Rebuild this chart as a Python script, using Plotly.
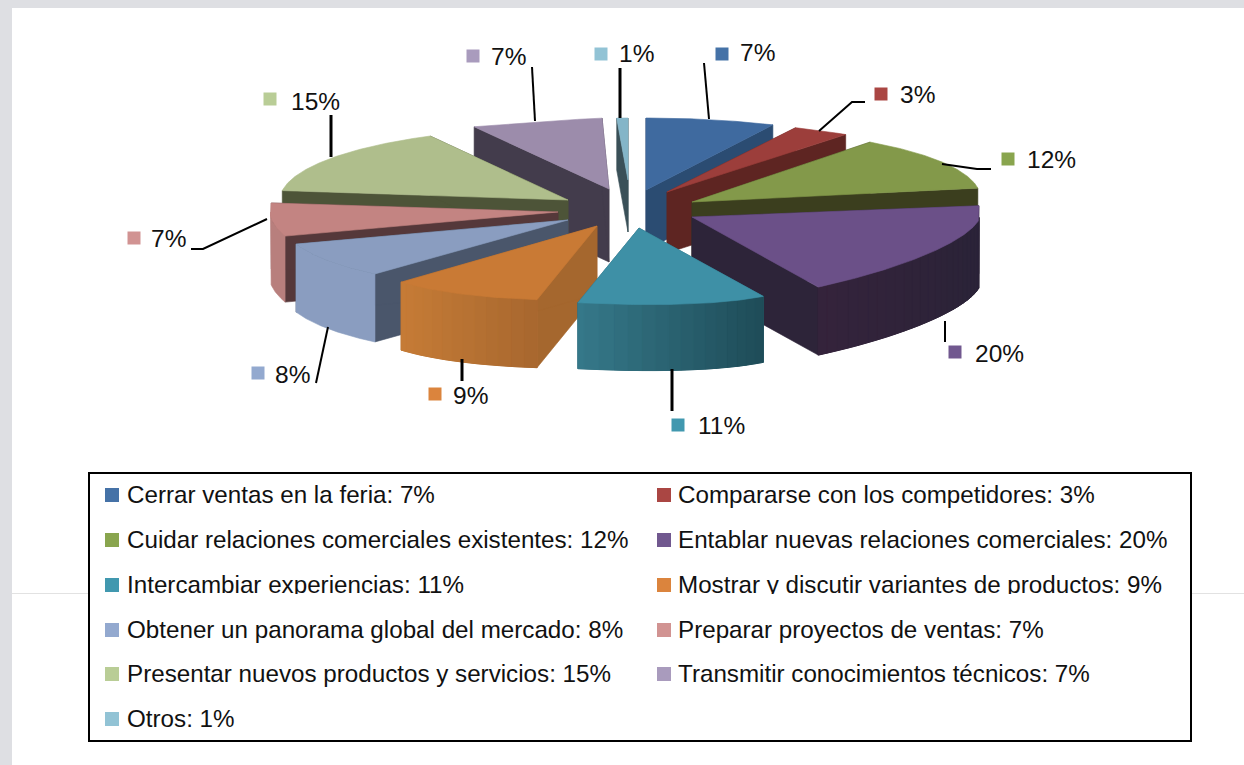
import numpy as np
import plotly.graph_objects as go

# ---- data ----
categories = ["Cerrar ventas en la feria", "Compararse con los competidores",
              "Cuidar relaciones comerciales existentes", "Entablar nuevas relaciones comerciales",
              "Intercambiar experiencias", "Mostrar y discutir variantes de productos",
              "Obtener un panorama global del mercado", "Preparar proyectos de ventas",
              "Presentar nuevos productos y servicios", "Transmitir conocimientos técnicos", "Otros"]
values = [7, 3, 12, 20, 11, 9, 8, 7, 15, 7, 1]
legend_colors = ["#4572A7", "#AA4643", "#89A54E", "#71588F", "#4198AF", "#DB843D",
                 "#93A9CF", "#D19392", "#B9CD96", "#A99BBD", "#92C3D5"]

# ---- style: top colour, wall colour, side gradient (right end, left end) ----
top_colors = ["#3F6A9F", "#9C3E3B", "#83994A", "#6B5088", "#3E90A6", "#C97A35",
              "#8A9DC0", "#C38482", "#AFBE8C", "#9C8CAB", "#84B5C8"]
wall_colors = ["#2B4C72", "#5E2522", "#3B3E1E", "#2D2439", "#2A5F6E", "#A5672E",
               "#4A566B", "#55383A", "#4D5438", "#433C4C", "#3A5058"]
side_right = ["#2B4C72", "#5E2522", "#3B3E1E", "#2B2338", "#1F4C58", "#A8682F",
              "#8A9DC0", "#B87F7D", "#4D5438", "#433C4C", "#3A5058"]
side_left = ["#2B4C72", "#5E2522", "#3B3E1E", "#35233C", "#36798A", "#C67C37",
             "#8A9DC0", "#B87F7D", "#4D5438", "#433C4C", "#3A5058"]
# exploded-slice layout: apex x, apex y, rx at start, rx at end, ry at start, ry at end, depth
explode = [(646, 190, 298, 298, 72, 72, 60), (667, 192, 302, 304, 71, 71, 61),
           (692, 202, 303, 291, 74, 74, 60), (692, 217, 293, 262, 60, 80, 68),
           (639, 228, 258, 326, 78, 76, 66), (597, 226, 320, 286, 75, 77, 68),
           (568, 220, 282, 286, 74, 78, 68), (558, 212, 287, 289, 78, 72, 66),
           (568, 200, 288, 286, 75, 73, 60), (609, 189, 280, 110, 71, 71, 73),
           (628, 180, 180, 180, 62, 62, 52)]
paint_order = [10, 9, 8, 7, 6, 5, 0, 1, 2, 3, 4]
PIE_LEFT, PIE_RIGHT = 270.5, 979

# data-label layout: swatch centre, text start, text y, leader polyline, leader width
marker_xy = [(722, 54), (881, 94), (1008, 159), (955, 352), (678, 425), (435, 394),
             (258, 373), (134, 238), (270, 99), (473, 56), (601, 54)]
label_xy = [(740, 55), (900, 97), (1027, 162), (975, 356), (698, 428), (453, 398),
            (275, 377), (151, 241), (291, 104), (491, 59), (619, 56)]
leaders = [[(704, 63), (709, 119)], [(865, 102), (852, 102), (819, 131)],
           [(942, 164), (977, 169), (991, 169)], [(945, 321), (945, 342)],
           [(672, 369), (672, 411)], [(462, 359), (462, 381)], [(328, 327), (316, 383)],
           [(267, 219), (203, 249), (191, 249)], [(331, 115), (331, 157)],
           [(532, 67), (535, 121)], [(620, 68), (620, 118)]]
leader_w = [2, 2, 2, 2, 3, 3, 2, 2, 3, 2, 3]

legend_rows = [495, 540, 585, 630, 674, 719]
legend_swatch_x = [112, 664]
legend_text_x = [127, 678]

FONT = "Liberation Sans, Arial, sans-serif"


def hex_rgb(h):
    return np.array([int(h[i:i + 2], 16) for i in (1, 3, 5)], float)


def mix(a, b, t):
    c = hex_rgb(a) * (1 - t) + hex_rgb(b) * t
    return "rgb(%d,%d,%d)" % tuple(c)


def poly(fig, xs, ys, color, width=0.6):
    xs = np.clip(np.asarray(xs, float), PIE_LEFT, PIE_RIGHT)
    fig.add_trace(go.Scatter(x=np.r_[xs, xs[0]], y=np.r_[ys, ys[0]], mode="lines",
                             fill="toself", fillcolor=color,
                             line=dict(color=color, width=width), hoverinfo="skip"))


fig = go.Figure()
cum = np.cumsum([0] + values) / sum(values) * 360.0

for i in paint_order:
    a0, a1 = cum[i], cum[i + 1]
    ax, ay, rx0, rx1, ry0, ry1, depth = explode[i]
    th = np.linspace(a0, a1, max(int(a1 - a0) * 2, 3))
    t = (th - a0) / (a1 - a0)
    rad = np.radians(th)
    ex = ax + (rx0 + (rx1 - rx0) * t) * np.sin(rad)
    ey = ay - (ry0 + (ry1 - ry0) * t) * np.cos(rad)
    # flat walls of the wedge
    for k in (0, -1):
        poly(fig, [ax, ex[k], ex[k], ax], [ay, ey[k], ey[k] + depth, ay + depth], wall_colors[i])
    # rounded outer wall: only the part turned to the viewer
    front = (th >= 90) & (th <= 270)
    if front.sum() > 1:
        fx, fy = ex[front], ey[front]
        # solid backing so that the gradient bands leave no seams
        poly(fig, np.r_[fx, fx[::-1]], np.r_[fy, fy[::-1] + depth],
             mix(side_right[i], side_left[i], 0.5))
        if side_right[i] != side_left[i]:
            step = 5
            idx = list(range(0, len(fx) - 1, step)) + [len(fx) - 1]
            for a, b in zip(idx[:-1], idx[1:]):
                u = 1 - (fx[a] + fx[b] - 2 * ex.min()) / 2 / max(ex.max() - ex.min(), 1)
                c = mix(side_right[i], side_left[i], float(np.clip(u, 0, 1)))
                poly(fig, np.r_[fx[a:b + 1], fx[a:b + 1][::-1]],
                     np.r_[fy[a:b + 1], fy[a:b + 1][::-1] + depth], c, width=1)
    # top face
    poly(fig, np.r_[ax, ex], np.r_[ay, ey], top_colors[i])

# leader lines, swatches and percentage labels
for i in range(len(values)):
    fig.add_trace(go.Scatter(x=[p[0] for p in leaders[i]], y=[p[1] for p in leaders[i]],
                             mode="lines", line=dict(color="black", width=leader_w[i]),
                             hoverinfo="skip"))
fig.add_trace(go.Scatter(x=[p[0] for p in marker_xy], y=[p[1] for p in marker_xy], mode="markers",
                         marker=dict(symbol="square", size=13, color=legend_colors), hoverinfo="skip"))
fig.add_trace(go.Scatter(x=[p[0] for p in label_xy], y=[p[1] for p in label_xy], mode="text",
                         text=[f"{v}%" for v in values], textposition="middle right",
                         textfont=dict(family=FONT, size=24.5, color="#111111"), hoverinfo="skip"))

# legend (two columns, row by row)
ly, lsy, lsx, ltx, ltext = [], [], [], [], []
for i, (c, v) in enumerate(zip(categories, values)):
    col = i % 2
    row = legend_rows[i // 2]
    lsx.append(legend_swatch_x[col])
    ltx.append(legend_text_x[col])
    lsy.append(row)
    ly.append(row + 2)
    ltext.append(f"{c}: {v}%")
fig.add_trace(go.Scatter(x=lsx, y=lsy, mode="markers",
                         marker=dict(symbol="square", size=14, color=legend_colors), hoverinfo="skip"))
fig.add_trace(go.Scatter(x=ltx, y=ly, mode="text", text=ltext, textposition="middle right",
                         textfont=dict(family=FONT, size=24.2, color="#111111"), hoverinfo="skip"))

shapes = [
    dict(type="rect", x0=0, x1=12, y0=0, y1=765, fillcolor="#DEDFE3", line_width=0, layer="below"),
    dict(type="rect", x0=0, x1=1244, y0=0, y1=8, fillcolor="#DEDFE3", line_width=0, layer="below"),
    dict(type="line", x0=12, x1=1244, y0=593.5, y1=593.5, line=dict(color="#E2E2E2", width=1), layer="below"),
    dict(type="rect", x0=89, x1=1191, y0=473, y1=741, fillcolor="white",
         line=dict(color="black", width=2), layer="below"),
    # the reference's row of text is cut off along this band
    dict(type="rect", x0=100, x1=1185, y0=594, y1=603, fillcolor="white", line_width=0, layer="above"),
]

fig.update_layout(
    width=1244, height=765, margin=dict(l=0, r=0, t=0, b=0), showlegend=False,
    paper_bgcolor="white", plot_bgcolor="rgba(0,0,0,0)", shapes=shapes,
    xaxis=dict(range=[0, 1244], visible=False, fixedrange=True),
    yaxis=dict(range=[765, 0], visible=False, fixedrange=True),
)
fig.write_html("out.html", config={"displayModeBar": False},
               post_script="document.body.style.margin='0';document.body.style.overflow='hidden';")
